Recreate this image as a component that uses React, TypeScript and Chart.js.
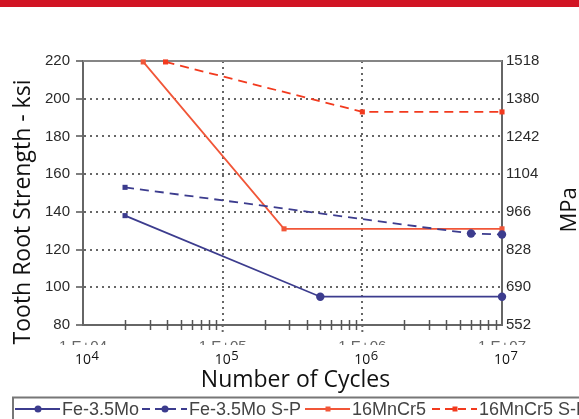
import React, { useEffect, useRef } from 'react';
import { Chart, registerables } from 'chart.js';

Chart.register(...registerables);

// ---------- data ----------
const seriesNames = ['Fe-3.5Mo', 'Fe-3.5Mo S-P', '16MnCr5', '16MnCr5 S-P'];

const fe35MoCycles = [2e4, 5e5, 1e7];
const fe35MoKsi = [138, 95, 95];

const fe35MoSPCycles = [2e4, 6e6, 1e7];
const fe35MoSPKsi = [153, 128.5, 128];

const mnCr5Cycles = [2.7e4, 2.75e5, 1e7];
const mnCr5Ksi = [219.5, 131, 131];

const mnCr5SPCycles = [3.9e4, 1e6, 1e7];
const mnCr5SPKsi = [219.5, 193, 193];

const ksiTicks = [80, 100, 120, 140, 160, 180, 200, 220];
const mpaTicks = [552, 690, 828, 966, 1104, 1242, 1380, 1518];
const cycleDecades = [4, 5, 6, 7];

const leftTitle = 'Tooth Root Strength - ksi';
const rightTitle = 'MPa';
const bottomTitle = 'Number of Cycles';

// ---------- styles ----------
const NAVY = '#3c3c8e';
const RED_SOLID = '#f15638';
const RED_DASH = '#f23a1e';
const seriesStyles = [
  { color: NAVY, dash: [] as number[], marker: 'circle' },
  { color: NAVY, dash: [9, 6], marker: 'circle' },
  { color: RED_SOLID, dash: [] as number[], marker: 'rect' },
  { color: RED_DASH, dash: [9, 6], marker: 'rect' },
];

const toPoints = (xs: number[], ys: number[]) => xs.map((x, i) => ({ x, y: ys[i] }));

const decorPlugin = {
  id: 'decor',
  beforeDraw(chart: any) {
    const { ctx, width } = chart;
    ctx.save();
    ctx.fillStyle = '#ffffff';
    ctx.fillRect(0, 0, chart.width, chart.height);
    ctx.fillStyle = '#d11424';
    ctx.fillRect(0, 0, width, 7);
    ctx.restore();
  },
  beforeDatasetsDraw(chart: any) {
    const { ctx, chartArea } = chart;
    ctx.save();
    ctx.strokeStyle = '#858585';
    ctx.lineWidth = 2;
    ctx.beginPath();
    ctx.moveTo(chartArea.left, chartArea.top);
    ctx.lineTo(chartArea.right, chartArea.top);
    ctx.stroke();
    // minor ticks on x axis
    const xs = chart.scales.x;
    ctx.strokeStyle = '#555';
    ctx.lineWidth = 1.5;
    for (const d of cycleDecades.slice(0, -1)) {
      for (let k = 2; k <= 9; k++) {
        const x = Math.round(xs.getPixelForValue(k * Math.pow(10, d))) + 0.5;
        ctx.beginPath();
        ctx.moveTo(x, chartArea.bottom - 5);
        ctx.lineTo(x, chartArea.bottom + 5);
        ctx.stroke();
      }
    }
    // major gridline stubs below axis
    ctx.setLineDash([2, 3]);
    ctx.lineWidth = 2;
    ctx.strokeStyle = '#666';
    for (const d of cycleDecades.slice(1, -1)) {
      const x = xs.getPixelForValue(Math.pow(10, d));
      ctx.beginPath();
      ctx.moveTo(x, chartArea.bottom);
      ctx.lineTo(x, chartArea.bottom + 7);
      ctx.stroke();
    }
    ctx.restore();
  },
  afterDraw(chart: any) {
    const { ctx, chartArea } = chart;
    const xs = chart.scales.x;
    ctx.save();
    // x tick labels 10^n
    for (const d of cycleDecades) {
      const x = xs.getPixelForValue(Math.pow(10, d));
      ctx.fillStyle = '#111';
      ctx.font = "14px 'Open Sans'";
      ctx.textAlign = 'center';
      ctx.textBaseline = 'alphabetic';
      ctx.fillText('10', x, 364);
      const w = ctx.measureText('10').width;
      ctx.font = "13px 'Open Sans'";
      ctx.textAlign = 'left';
      ctx.fillText(String(d), x + w / 2 + 0.5, 359.5);
      // clipped excel labels
      ctx.save();
      ctx.beginPath();
      ctx.rect(0, 335, chart.width, 10);
      ctx.clip();
      ctx.font = "15px 'Liberation Sans'";
      ctx.fillStyle = '#666';
      ctx.textAlign = 'center';
      ctx.textBaseline = 'top';
      ctx.fillText('1.E+0' + d, x, 339);
      ctx.restore();
    }
    // axis titles
    ctx.fillStyle = '#111';
    ctx.font = "23px 'Open Sans'";
    ctx.textAlign = 'center';
    ctx.textBaseline = 'alphabetic';
    ctx.fillText(bottomTitle, (chartArea.left + chartArea.right) / 2 + 3, 387);
    ctx.save();
    ctx.translate(30, 212);
    ctx.rotate(-Math.PI / 2);
    ctx.fillText(leftTitle, 0, 0);
    ctx.restore();
    ctx.save();
    ctx.font = "22px 'Open Sans'";
    ctx.translate(576, 210);
    ctx.rotate(-Math.PI / 2);
    ctx.fillText(rightTitle, 0, 0);
    ctx.restore();

    // legend
    ctx.strokeStyle = '#777';
    ctx.lineWidth = 2;
    ctx.strokeRect(13, 397.5, 640, 40);
    const starts = [15, 142, 305, 432];
    const cy = 409;
    seriesNames.forEach((name, i) => {
      const st = seriesStyles[i];
      const x0 = starts[i];
      const x1 = x0 + 45;
      ctx.strokeStyle = st.color;
      ctx.lineWidth = 2;
      ctx.setLineDash(st.dash.length ? [8, 5] : []);
      ctx.beginPath();
      ctx.moveTo(x0, cy);
      ctx.lineTo(x1, cy);
      ctx.stroke();
      ctx.setLineDash([]);
      ctx.fillStyle = st.color;
      const mx = x0 + 23;
      if (st.marker === 'circle') {
        ctx.beginPath();
        ctx.arc(mx, cy, 3.5, 0, Math.PI * 2);
        ctx.fill();
      } else {
        ctx.fillRect(mx - 2.5, cy - 2.5, 5, 5);
      }
      ctx.fillStyle = '#444';
      ctx.font = "18px 'Liberation Sans'";
      ctx.textAlign = 'left';
      ctx.textBaseline = 'middle';
      ctx.fillText(name, x1 + 2, cy + 1);
    });
    ctx.restore();
  },
};

export default function App() {
  const ref = useRef<HTMLCanvasElement | null>(null);
  useEffect(() => {
    if (!ref.current) return;
    const dataSets = [
      toPoints(fe35MoCycles, fe35MoKsi),
      toPoints(fe35MoSPCycles, fe35MoSPKsi),
      toPoints(mnCr5Cycles, mnCr5Ksi),
      toPoints(mnCr5SPCycles, mnCr5SPKsi),
    ];
    const chart = new Chart(ref.current, {
      type: 'line',
      data: {
        datasets: dataSets.map((d, i) => ({
          label: seriesNames[i],
          data: d,
          borderColor: seriesStyles[i].color,
          backgroundColor: seriesStyles[i].color,
          borderWidth: 1.8,
          borderDash: seriesStyles[i].dash,
          pointStyle: (c: any) => (i < 2 && c.dataIndex === 0 ? 'rect' : seriesStyles[i].marker),
          pointRadius: (c: any) => (i < 2 && c.dataIndex > 0 ? 4.2 : 3.6),
          pointBorderWidth: 0,
          tension: 0,
          clip: false,
          yAxisID: 'y',
        })),
      },
      options: {
        animation: false,
        responsive: false,
        layout: { padding: { top: 61, left: 0, right: 0, bottom: 0 } },
        plugins: { legend: { display: false }, tooltip: { enabled: false } },
        scales: {
          x: {
            type: 'logarithmic',
            min: 1e4,
            max: 1e7,
            afterBuildTicks: (s: any) => {
              s.ticks = cycleDecades.map((d) => ({ value: Math.pow(10, d) }));
            },
            afterFit: (s: any) => {
              s.height = 94;
            },
            ticks: { display: false },
            grid: { color: '#666', lineWidth: 2, drawTicks: false },
            border: { color: '#666', width: 2, dash: [2, 4] },
          },
          y: {
            position: 'left',
            min: 80,
            max: 220,
            afterBuildTicks: (s: any) => {
              s.ticks = ksiTicks.map((v) => ({ value: v }));
            },
            afterFit: (s: any) => {
              s.width = 83;
            },
            ticks: {
              color: '#2a2a2a',
              font: { family: "'Liberation Sans', Arial, sans-serif", size: 15 },
              padding: 6,
              callback: (v: any) => String(v),
            },
            grid: { color: '#666', lineWidth: 2, tickLength: 7, tickColor: '#555', tickWidth: 1.5 },
            border: { color: '#666', width: 2, dash: [2, 4] },
          },
          y1: {
            position: 'right',
            min: 552,
            max: 1518,
            afterBuildTicks: (s: any) => {
              s.ticks = mpaTicks.map((v) => ({ value: v }));
            },
            afterFit: (s: any) => {
              s.width = 77;
            },
            ticks: {
              color: '#2a2a2a',
              font: { family: "'Liberation Sans', Arial, sans-serif", size: 15 },
              padding: 4,
              callback: (v: any) => String(v),
            },
            grid: { display: false, drawTicks: false },
            border: { display: true, color: '#666', width: 2 },
          },
        },
      },
      plugins: [decorPlugin],
    } as any);
    return () => chart.destroy();
  }, []);
  return (
    <div style={{ position: 'fixed', left: 0, top: 0, width: 579, height: 419 }}>
      <canvas ref={ref} width={579} height={419} />
    </div>
  );
}
